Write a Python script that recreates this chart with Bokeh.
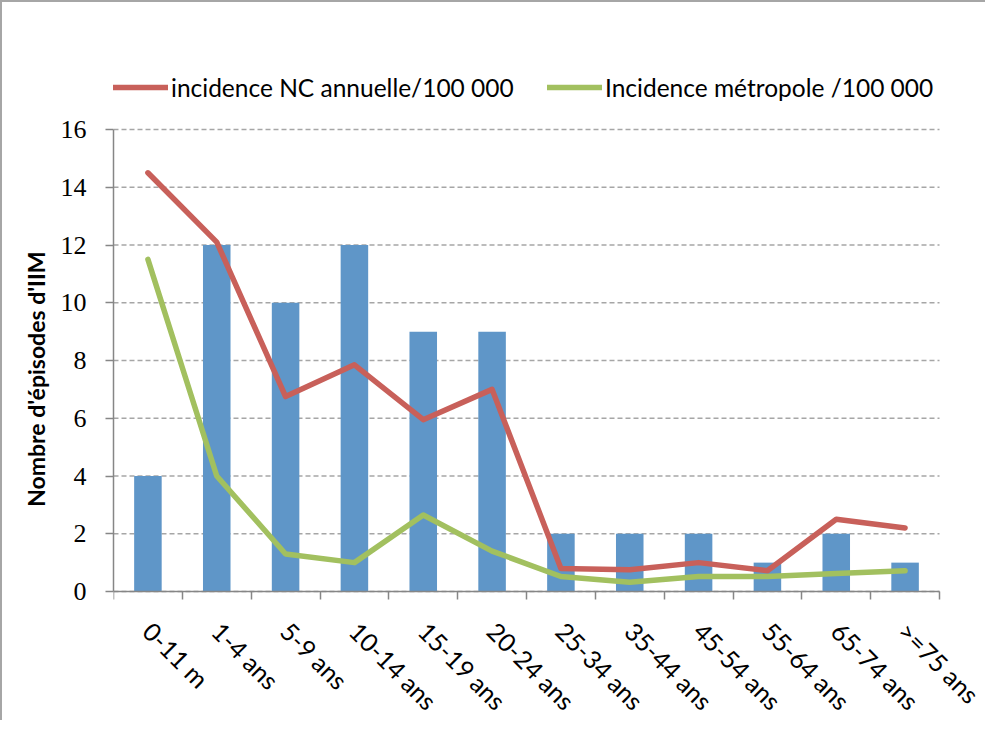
import math
from bokeh.plotting import figure
from bokeh.models import Range1d, FixedTicker, Legend, LegendItem
from bokeh.embed import file_html
from bokeh.resources import INLINE

categories = ["0-11 m", "1-4 ans", "5-9 ans", "10-14 ans", "15-19 ans", "20-24 ans",
              "25-34 ans", "35-44 ans", "45-54 ans", "55-64 ans", "65-74 ans", ">=75 ans"]
episodes = [4, 12, 10, 12, 9, 9, 2, 2, 2, 1, 2, 1]
incidence_nc = [14.5, 12.1, 6.75, 7.85, 5.95, 7.0, 0.8, 0.75, 1.0, 0.72, 2.5, 2.2]
incidence_metropole = [11.5, 4.0, 1.3, 1.0, 2.65, 1.4, 0.52, 0.32, 0.52, 0.52, 0.62, 0.72]
y_ticks = [0, 2, 4, 6, 8, 10, 12, 14, 16]

n = len(categories)
centers = [i + 0.5 for i in range(n)]
bounds = [float(i) for i in range(n + 1)]
y_max = 16

# layout (canvas pixels): the frame fills the canvas below the legend and right of
# the value axis; the value axis 0..16 occupies rows 127..589 and columns 111..937
W, H = 985, 720
LEFT = 111
COL0, COL12 = 111, 937
FRAME_TOP = 65
ROW16, ROW0 = 127, 589
px_per_unit = (ROW0 - ROW16) / y_max
y_top = y_max + (ROW16 - FRAME_TOP) / px_per_unit
y_bottom = -(H - ROW0) / px_per_unit
x_end = n * (W - LEFT) / (COL12 - COL0)

AXIS = "#868686"
SANS = "Lato"

p = figure(width=W, height=H,
           x_range=Range1d(0, x_end), y_range=Range1d(y_bottom, y_top),
           output_backend="svg", toolbar_location=None,
           min_border_left=LEFT, min_border_right=0,
           min_border_top=FRAME_TOP, min_border_bottom=0)
p.styles = {"border-left": "2px solid #a6a6a6", "border-top": "2px solid #a6a6a6"}
p.outline_line_color = None
p.background_fill_color = "white"
p.border_fill_color = "white"

# dashed value gridlines spanning the 12 categories
p.xgrid.visible = False
p.ygrid.visible = False
p.segment(x0=0, y0=y_ticks, x1=n, y1=y_ticks, line_color="#a6a6a6",
          line_dash="5 3", line_width=1.3)

bars = p.vbar(x=centers, top=episodes, bottom=0, width=0.4,
              fill_color="#5f96c8", line_color=None)
r_nc = p.line(x=centers, y=incidence_nc, line_color="#c8605a", line_width=5.5,
              line_join="round", line_cap="round")
r_me = p.line(x=centers, y=incidence_metropole, line_color="#a2c05f", line_width=5.5,
              line_join="round", line_cap="round")

# x axis, drawn at y = 0
xa = p.xaxis[0]
xa.fixed_location = 0
xa.bounds = (0, n)
xa.ticker = FixedTicker(ticks=centers, minor_ticks=bounds)
xa.major_label_overrides = {c: lab for c, lab in zip(centers, categories)}
xa.major_label_orientation = -math.pi / 4
xa.major_tick_line_color = None
xa.major_tick_out = 8
xa.major_tick_in = 0
xa.minor_tick_line_color = AXIS
xa.minor_tick_line_width = 1.5
xa.minor_tick_out = 8
xa.minor_tick_in = 0
xa.axis_line_color = AXIS
xa.axis_line_width = 1.5
xa.major_label_text_font = SANS
xa.major_label_text_font_size = "25px"
xa.major_label_text_color = "black"
xa.major_label_standoff = 27

# y axis
ya = p.yaxis[0]
ya.bounds = (0, y_max)
ya.ticker = FixedTicker(ticks=y_ticks)
ya.major_tick_line_color = AXIS
ya.major_tick_line_width = 1.5
ya.major_tick_out = 8
ya.major_tick_in = 0
ya.minor_tick_line_color = None
ya.axis_line_color = AXIS
ya.axis_line_width = 1.5
ya.major_label_text_font = "Liberation Serif"
ya.major_label_text_font_size = "26px"
ya.major_label_text_color = "black"
ya.major_label_standoff = 19
# leading spaces keep the title centred on the 0-16 value axis
ya.axis_label = "\u2003\u2002\u2009Nombre d'épisodes d'IIM"
ya.axis_label_text_font = SANS
ya.axis_label_text_font_style = "bold"
ya.axis_label_text_font_size = "23px"
ya.axis_label_text_color = "black"
ya.axis_label_standoff = 8

legend = Legend(items=[LegendItem(label="incidence NC annuelle/100 000", renderers=[r_nc]),
                       LegendItem(label="Incidence métropole /100 000", renderers=[r_me])],
                location="top_left", orientation="horizontal",
                glyph_width=55, glyph_height=40, label_height=40, label_width=376,
                label_standoff=3, spacing=0, padding=0, margin=0,
                border_line_color=None, background_fill_alpha=0,
                label_text_font=SANS, label_text_font_size="24.5px",
                label_text_color="black")
p.add_layout(legend, "center")

open("out.html", "w").write(file_html(p, INLINE))
